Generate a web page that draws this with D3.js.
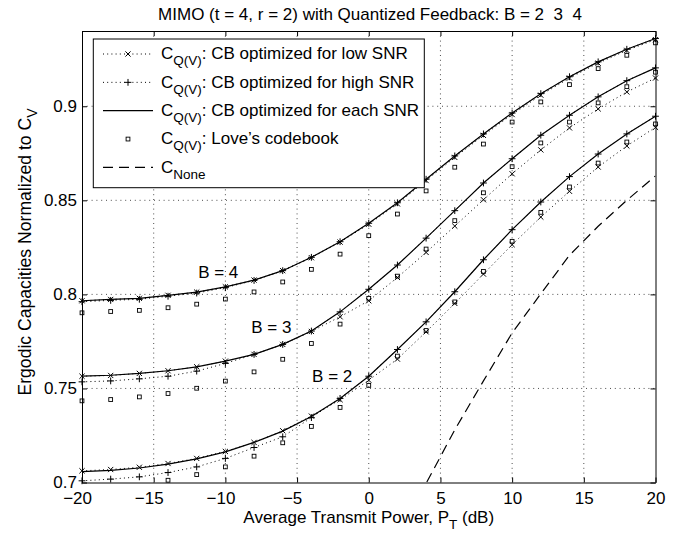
<!DOCTYPE html>
<html>
<head>
<meta charset="utf-8">
<script src="https://cdn.jsdelivr.net/npm/d3@7"></script>
<style>
  body { margin: 0; background: #fff; }
  text { font-family: "Liberation Sans", Arial, Helvetica, sans-serif; fill: #000; }
</style>
</head>
<body>
<svg id="chart" width="689" height="536"></svg>
<script>
// Transmit power grid (dB)
const snrDb = [-20, -18, -16, -14, -12, -10, -8, -6, -4, -2, 0, 2, 4, 6, 8, 10, 12, 14, 16, 18, 20];

// B = 4 feedback bits
const lowSnrB4  = [0.7966, 0.7973, 0.7979, 0.7995, 0.8012, 0.8040, 0.8076, 0.8126, 0.8195, 0.8278, 0.8373, 0.8481, 0.8605, 0.8728, 0.8845, 0.8956, 0.9059, 0.9150, 0.9229, 0.9297, 0.9354];
const highSnrB4 = [0.7961, 0.7968, 0.7974, 0.7990, 0.8007, 0.8036, 0.8074, 0.8126, 0.8197, 0.8280, 0.8378, 0.8487, 0.8612, 0.8736, 0.8853, 0.8964, 0.9067, 0.9157, 0.9236, 0.9303, 0.9360];
const eachSnrB4 = [0.7966, 0.7973, 0.7979, 0.7995, 0.8012, 0.8040, 0.8076, 0.8126, 0.8197, 0.8280, 0.8378, 0.8487, 0.8612, 0.8736, 0.8853, 0.8964, 0.9067, 0.9157, 0.9236, 0.9303, 0.9360];
const loveB4    = [0.7902, 0.7909, 0.7915, 0.7929, 0.7948, 0.7975, 0.8013, 0.8066, 0.8133, 0.8214, 0.8312, 0.8427, 0.8550, 0.8676, 0.8799, 0.8916, 0.9023, 0.9115, 0.9200, 0.9271, 0.9337];

// B = 3 feedback bits
const lowSnrB3  = [0.7565, 0.7569, 0.7580, 0.7594, 0.7615, 0.7645, 0.7681, 0.7734, 0.7803, 0.7881, 0.7966, 0.8090, 0.8223, 0.8363, 0.8503, 0.8641, 0.8768, 0.8885, 0.8986, 0.9076, 0.9150];
const highSnrB3 = [0.7535, 0.7540, 0.7551, 0.7565, 0.7592, 0.7633, 0.7681, 0.7734, 0.7805, 0.7907, 0.8027, 0.8156, 0.8299, 0.8445, 0.8592, 0.8721, 0.8846, 0.8952, 0.9050, 0.9136, 0.9204];
const eachSnrB3 = [0.7565, 0.7570, 0.7580, 0.7594, 0.7615, 0.7645, 0.7681, 0.7734, 0.7805, 0.7907, 0.8027, 0.8156, 0.8299, 0.8445, 0.8592, 0.8721, 0.8846, 0.8952, 0.9050, 0.9136, 0.9204];
const loveB3    = [0.7434, 0.7441, 0.7455, 0.7473, 0.7501, 0.7539, 0.7588, 0.7655, 0.7739, 0.7842, 0.7979, 0.8097, 0.8241, 0.8392, 0.8540, 0.8679, 0.8805, 0.8916, 0.9018, 0.9104, 0.9181];

// B = 2 feedback bits
const lowSnrB2  = [0.7062, 0.7069, 0.7081, 0.7101, 0.7128, 0.7165, 0.7213, 0.7275, 0.7353, 0.7440, 0.7544, 0.7656, 0.7801, 0.7952, 0.8108, 0.8264, 0.8411, 0.8548, 0.8677, 0.8789, 0.8888];
const highSnrB2 = [0.7009, 0.7018, 0.7030, 0.7053, 0.7083, 0.7128, 0.7186, 0.7243, 0.7345, 0.7447, 0.7565, 0.7707, 0.7854, 0.8014, 0.8184, 0.8344, 0.8491, 0.8626, 0.8746, 0.8853, 0.8947];
const eachSnrB2 = [0.7058, 0.7064, 0.7077, 0.7098, 0.7126, 0.7163, 0.7213, 0.7273, 0.7351, 0.7447, 0.7565, 0.7707, 0.7854, 0.8014, 0.8184, 0.8344, 0.8491, 0.8626, 0.8746, 0.8853, 0.8947];
const loveB2    = [0.6950, 0.6962, 0.6975, 0.7012, 0.7042, 0.7083, 0.7140, 0.7211, 0.7298, 0.7399, 0.7516, 0.7672, 0.7808, 0.7960, 0.8122, 0.8282, 0.8436, 0.8571, 0.8698, 0.8810, 0.8906];

// No feedback
const noneSnrDb = [2, 4, 6, 8, 10, 12, 14, 16, 18, 20];
const capNone   = [0.6700, 0.6995, 0.7280, 0.7540, 0.7795, 0.8003, 0.8208, 0.8362, 0.8500, 0.8630];

const xTicks = [-20, -15, -10, -5, 0, 5, 10, 15, 20];
const yTicks = [0.7, 0.75, 0.8, 0.85, 0.9];

const groups = [
  { label: "B = 4", at: [-11.9, 0.8085], low: lowSnrB4, high: highSnrB4, each: eachSnrB4, love: loveB4 },
  { label: "B = 3", at: [-8.2, 0.7793], low: lowSnrB3, high: highSnrB3, each: eachSnrB3, love: loveB3 },
  { label: "B = 2", at: [-3.95, 0.7533], low: lowSnrB2, high: highSnrB2, each: eachSnrB2, love: loveB2 }
];

const W = 689, H = 536;
const plot = { left: 82, right: 655.5, top: 31, bottom: 482.5 };
const FS = 17, SUB = 13.5;

const svg = d3.select("#chart");
svg.append("rect").attr("width", W).attr("height", H).attr("fill", "#fff");

const x = d3.scaleLinear().domain([-20, 20]).range([plot.left, plot.right]);
const y = d3.scaleLinear().domain([0.7, 0.94]).range([plot.bottom, plot.top]);

svg.append("defs").append("clipPath").attr("id", "plotClip")
  .append("rect")
  .attr("x", plot.left).attr("y", plot.top)
  .attr("width", plot.right - plot.left).attr("height", plot.bottom - plot.top);

// dotted grid
const grid = svg.append("g").attr("stroke", "#000").attr("stroke-width", 0.7)
  .attr("stroke-dasharray", "1,3.8").attr("fill", "none");
xTicks.slice(1, -1).forEach(t => {
  grid.append("line").attr("x1", x(t)).attr("x2", x(t)).attr("y1", plot.top).attr("y2", plot.bottom);
});
yTicks.slice(1).forEach(t => {
  grid.append("line").attr("x1", plot.left).attr("x2", plot.right).attr("y1", y(t)).attr("y2", y(t));
});

// curves
const lineGen = d3.line().x(d => x(d[0])).y(d => y(d[1]));
const curves = svg.append("g").attr("clip-path", "url(#plotClip)").attr("fill", "none").attr("stroke", "#000");
const pairs = vals => snrDb.map((s, i) => [s, vals[i]]);
const inRange = d => d[1] >= 0.7 && d[1] <= 0.94;

groups.forEach(g => {
  curves.append("path").attr("d", lineGen(pairs(g.low))).attr("stroke-width", 1).attr("stroke-dasharray", "1,3.2");
  curves.append("path").attr("d", lineGen(pairs(g.high))).attr("stroke-width", 1).attr("stroke-dasharray", "1,3.2");
  curves.append("path").attr("d", lineGen(pairs(g.each))).attr("stroke-width", 1.2);
});
curves.append("path")
  .attr("d", lineGen(noneSnrDb.map((s, i) => [s, capNone[i]])))
  .attr("stroke-width", 1.2).attr("stroke-dasharray", "10,6");

// markers
const marks = svg.append("g").attr("fill", "none").attr("stroke", "#000").attr("stroke-width", 1);
function cross(sel, cx, cy, r) {
  sel.append("path").attr("d", `M${cx - r},${cy - r}L${cx + r},${cy + r}M${cx - r},${cy + r}L${cx + r},${cy - r}`);
}
function plus(sel, cx, cy, r) {
  sel.append("path").attr("d", `M${cx - r},${cy}L${cx + r},${cy}M${cx},${cy - r}L${cx},${cy + r}`);
}
function square(sel, cx, cy, r) {
  sel.append("rect").attr("x", cx - r).attr("y", cy - r).attr("width", 2 * r).attr("height", 2 * r).attr("stroke-width", 0.9);
}
groups.forEach(g => {
  pairs(g.low).filter(inRange).forEach(d => cross(marks, x(d[0]), y(d[1]), 2.6));
  pairs(g.high).filter(inRange).forEach(d => plus(marks, x(d[0]), y(d[1]), 3.4));
  pairs(g.love).filter(inRange).forEach(d => square(marks, x(d[0]), y(d[1]), 1.9));
});

// axes (ticks point inward on all four sides)
const fmtY = d => String(+d.toFixed(2));
const fmtX = d => (d < 0 ? "\u2212" : "") + Math.abs(d);

const axB = svg.append("g").attr("transform", `translate(0,${plot.bottom})`)
  .call(d3.axisBottom(x).tickValues(xTicks).tickSizeInner(-5).tickSizeOuter(0).tickPadding(9.5).tickFormat(fmtX));
axB.selectAll("text").attr("dx", d => d < 0 ? "-0.292em" : 0);

svg.append("g").attr("transform", `translate(${plot.left},0)`)
  .call(d3.axisLeft(y).tickValues(yTicks).tickSizeInner(-5).tickSizeOuter(0).tickPadding(5).tickFormat(fmtY));

svg.append("g").attr("transform", `translate(0,${plot.top})`)
  .call(d3.axisTop(x).tickValues(xTicks).tickSizeInner(-5).tickSizeOuter(0).tickFormat(""));
svg.append("g").attr("transform", `translate(${plot.right},0)`)
  .call(d3.axisRight(y).tickValues(yTicks).tickSizeInner(-5).tickSizeOuter(0).tickFormat(""));

svg.selectAll(".tick text").attr("font-size", FS).attr("font-family", null);
svg.selectAll(".domain, .tick line").attr("stroke", "#000").attr("stroke-width", 1);

// curve annotations
groups.forEach(g => {
  svg.append("text").attr("x", x(g.at[0])).attr("y", y(g.at[1])).attr("font-size", FS).text(g.label);
});

// legend
const lg = svg.append("g");
lg.append("rect").attr("x", 93.3).attr("y", 39).attr("width", 331).attr("height", 148.7)
  .attr("fill", "#fff").attr("stroke", "#000").attr("stroke-width", 1);
const entries = [
  { sub: "Q(V)", rest: ": CB optimized for low SNR", kind: "low" },
  { sub: "Q(V)", rest: ": CB optimized for high SNR", kind: "high" },
  { sub: "Q(V)", rest: ": CB optimized for each SNR", kind: "each" },
  { sub: "Q(V)", rest: ": Love\u2019s codebook", kind: "love" },
  { sub: "None", rest: "", kind: "none" }
];
entries.forEach((e, i) => {
  const base = 59.3 + i * 28.35;
  const ly = base - 5.3;
  const g = lg.append("g").attr("fill", "none").attr("stroke", "#000");
  if (e.kind === "low" || e.kind === "high") {
    g.append("line").attr("x1", 103).attr("x2", 153).attr("y1", ly).attr("y2", ly)
      .attr("stroke-width", 1).attr("stroke-dasharray", "1,3.2");
    if (e.kind === "low") cross(g, 128, ly, 2.6); else plus(g, 128, ly, 3.4);
  } else if (e.kind === "each") {
    g.append("line").attr("x1", 103).attr("x2", 153).attr("y1", ly).attr("y2", ly).attr("stroke-width", 1.2);
  } else if (e.kind === "love") {
    square(g, 128, ly, 1.9);
  } else {
    g.append("line").attr("x1", 103).attr("x2", 153).attr("y1", ly).attr("y2", ly)
      .attr("stroke-width", 1.2).attr("stroke-dasharray", "10,6");
  }
  const t = lg.append("text").attr("x", 161).attr("y", base).attr("font-size", FS);
  t.append("tspan").text("C");
  t.append("tspan").attr("font-size", SUB).attr("dy", 6).text(e.sub);
  if (e.rest) t.append("tspan").attr("dy", -6).text(e.rest);
});

// title and axis labels
svg.append("text").attr("x", 370).attr("y", 20).attr("text-anchor", "middle").attr("font-size", FS)
  .text("MIMO (t = 4, r = 2) with Quantized Feedback: B = 2  3  4").attr("xml:space", "preserve")
  .style("white-space", "pre");

const xl = svg.append("text").attr("x", (plot.left + plot.right) / 2).attr("y", 523)
  .attr("text-anchor", "middle").attr("font-size", FS);
xl.append("tspan").text("Average Transmit Power, P");
xl.append("tspan").attr("font-size", SUB).attr("dy", 6).text("T");
xl.append("tspan").attr("dy", -6).text(" (dB)").style("white-space", "pre");

const yl = svg.append("text").attr("transform", "translate(31,252) rotate(-90)")
  .attr("text-anchor", "middle").attr("font-size", 17.6);
yl.append("tspan").text("Ergodic Capacities Normalized to C");
yl.append("tspan").attr("font-size", 14).attr("dy", 6).text("V");
</script>
</body>
</html>
